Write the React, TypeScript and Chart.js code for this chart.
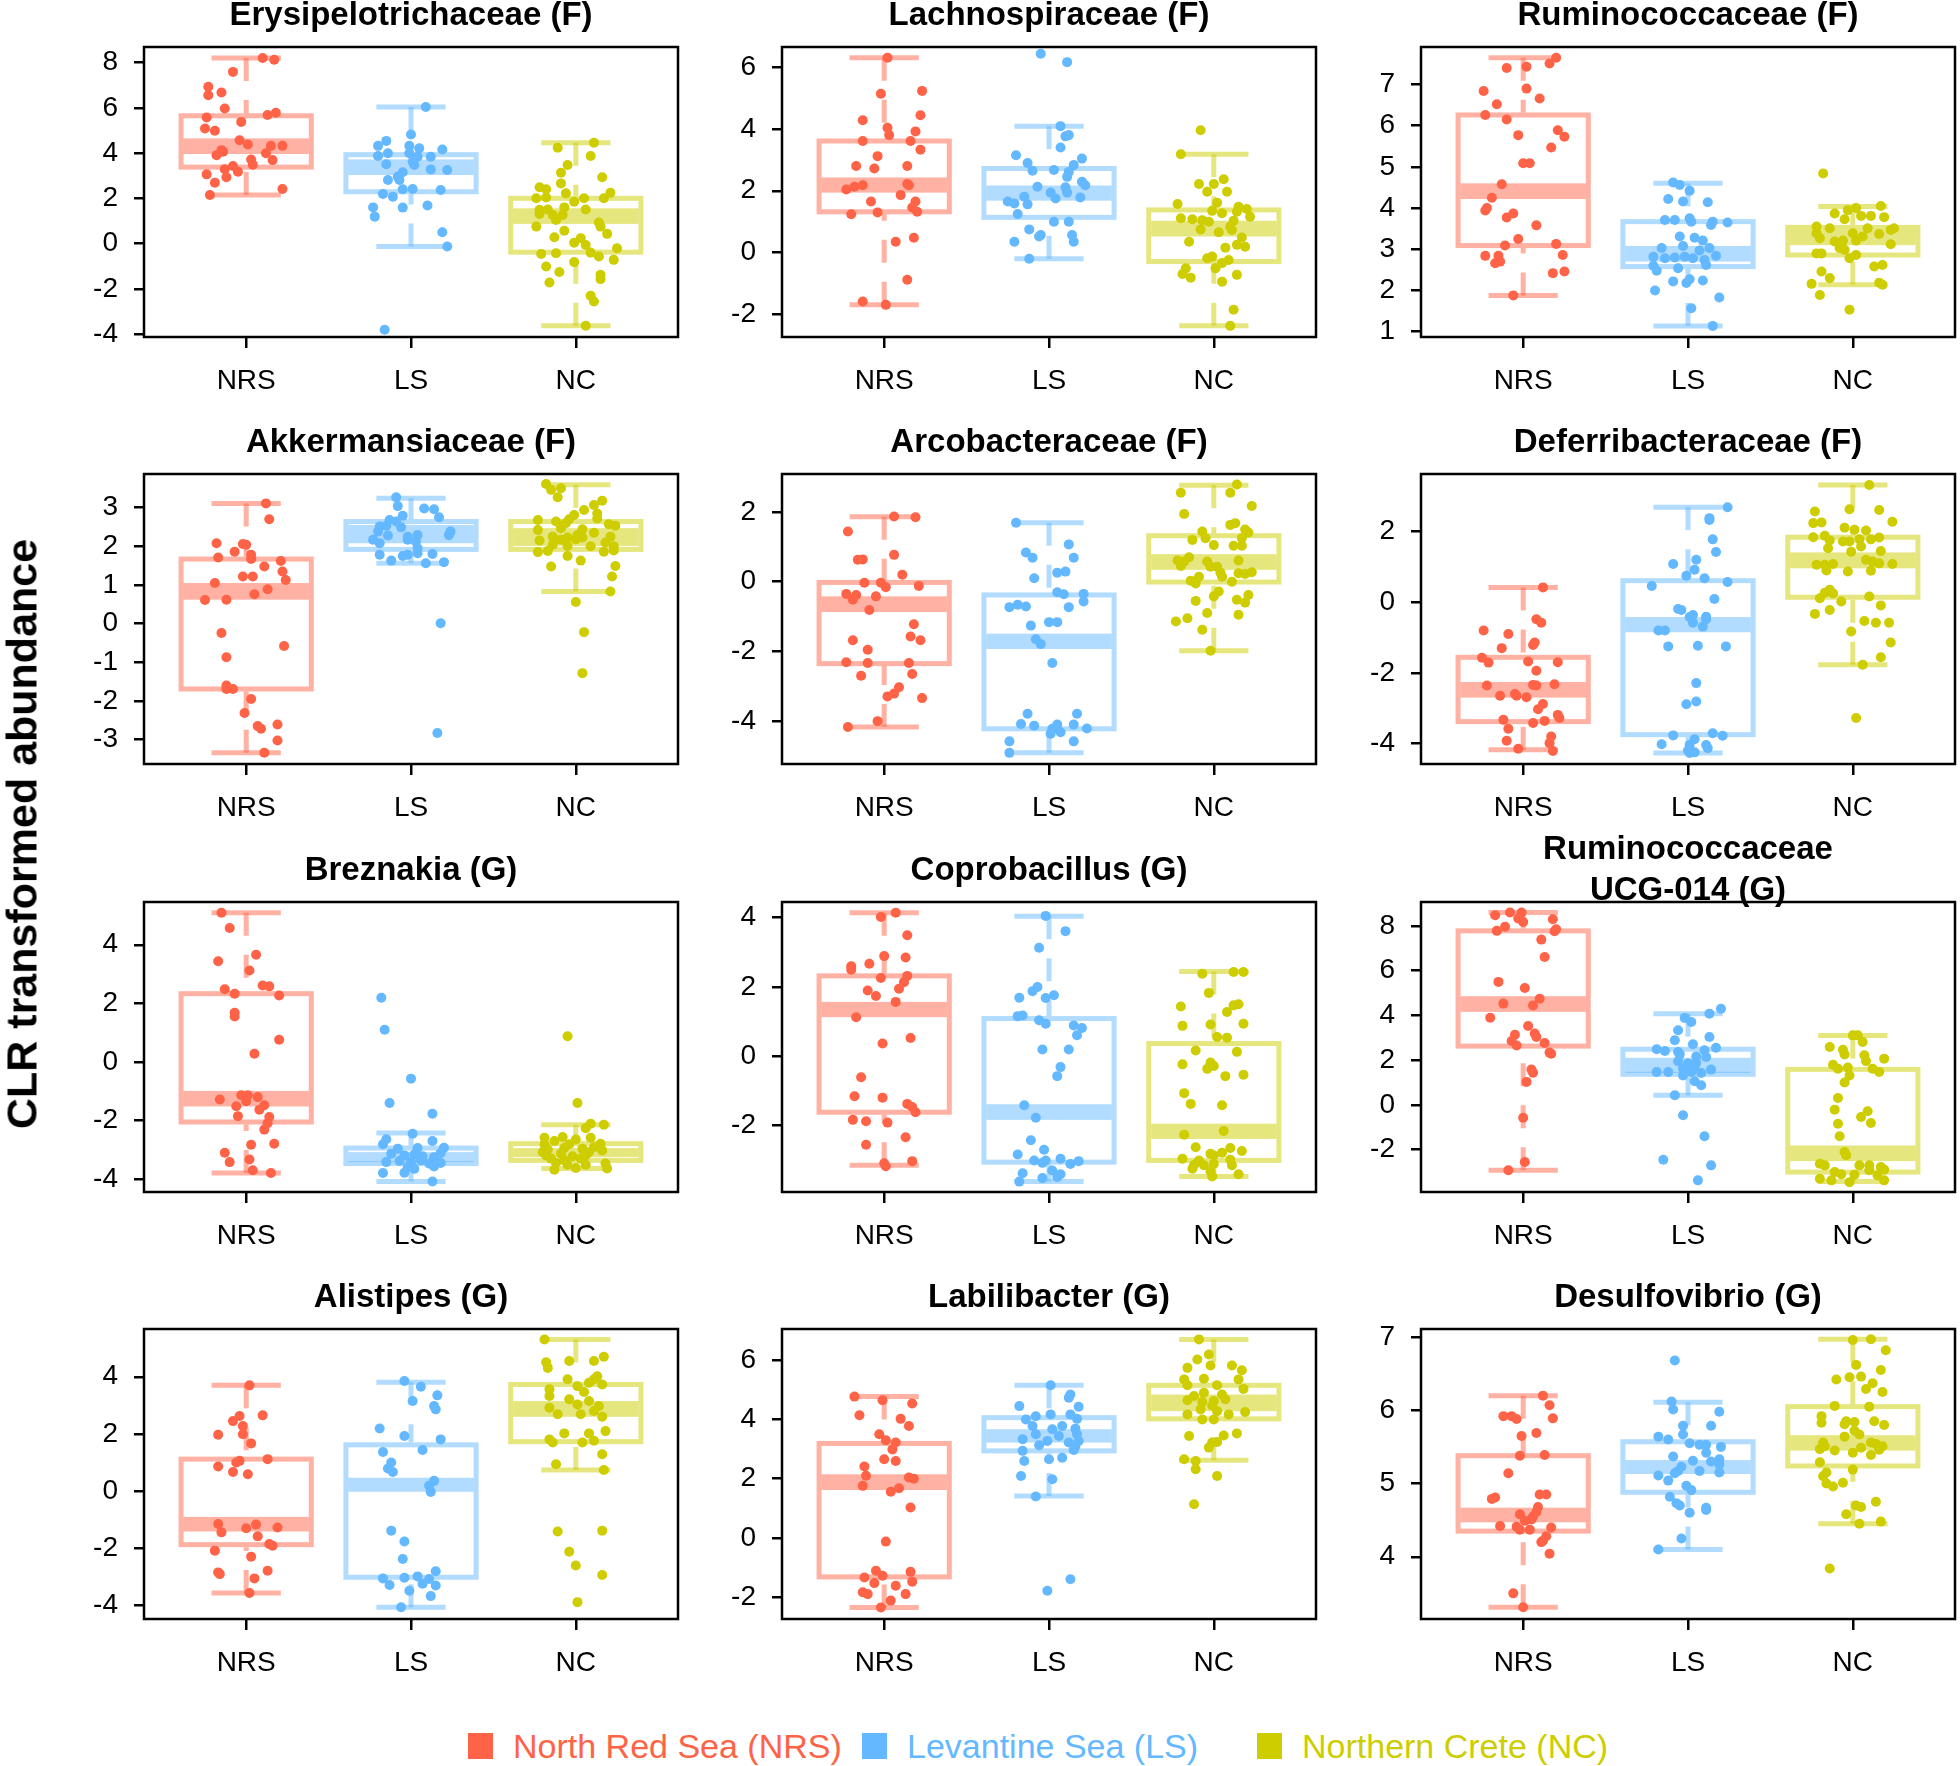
import React, { useEffect, useRef } from "react";
import { Chart, registerables } from "chart.js";
Chart.register(...registerables);

const FONT = '"Liberation Sans", Arial, Helvetica, sans-serif';
const GROUPS = ["NRS", "LS", "NC"];
const LEGEND_LABELS = ["North Red Sea (NRS)", "Levantine Sea (LS)", "Northern Crete (NC)"];
const COLORS = ["rgb(255,99,71)", "rgb(99,184,255)", "rgb(205,205,0)"];
const FADED = ["rgba(255,99,71,0.5)", "rgba(99,184,255,0.5)", "rgba(205,205,0,0.5)"];
const Y_LABEL = "CLR transformed abundance";

const TITLES = [
  ["Erysipelotrichaceae (F)"], ["Lachnospiraceae (F)"], ["Ruminococcaceae (F)"],
  ["Akkermansiaceae (F)"], ["Arcobacteraceae (F)"], ["Deferribacteraceae (F)"],
  ["Breznakia (G)"], ["Coprobacillus (G)"], ["Ruminococcaceae", "UCG-014 (G)"],
  ["Alistipes (G)"], ["Labilibacter (G)"], ["Desulfovibrio (G)"],
];
const Y_MIN = [-4.13, -2.73, 0.87, -3.63, -5.23, -4.58, -4.44, -3.91, -3.89, -4.47, -2.73, 3.15];
const Y_MAX = [8.69, 6.65, 7.91, 3.87, 3.09, 3.63, 5.46, 4.45, 9.07, 5.67, 7.05, 7.11];
const Y_TICKS = [
  [-4, -2, 0, 2, 4, 6, 8], [-2, 0, 2, 4, 6], [1, 2, 3, 4, 5, 6, 7],
  [-3, -2, -1, 0, 1, 2, 3], [-4, -2, 0, 2], [-4, -2, 0, 2],
  [-4, -2, 0, 2, 4], [-2, 0, 2, 4], [-2, 0, 2, 4, 6, 8],
  [-4, -2, 0, 2, 4], [-2, 0, 2, 4, 6], [4, 5, 6, 7],
];

// box stats per group: [whiskerLow, q1, notchLow, notchHigh, q3, whiskerHigh]
const ERY_BOX = [[2.15, 3.38, 3.96, 4.65, 5.65, 8.2], [-0.13, 2.29, 3.03, 3.72, 3.93, 6.04], [-3.63, -0.38, 0.87, 1.56, 2.0, 4.46]];
const LAC_BOX = [[-1.69, 1.32, 1.94, 2.43, 3.61, 6.3], [-0.2, 1.14, 1.68, 2.17, 2.72, 4.09], [-2.37, -0.29, 0.52, 1.03, 1.38, 3.18]];
const RUM_BOX = [[1.88, 3.09, 4.22, 4.6, 6.26, 7.65], [1.14, 2.58, 2.7, 3.08, 3.67, 4.6], [2.14, 2.86, 3.1, 3.47, 3.53, 4.04]];
const AKK_BOX = [[-3.34, -1.69, 0.62, 1.05, 1.67, 3.11], [1.56, 1.92, 2.08, 2.55, 2.64, 3.24], [0.83, 1.92, 2.01, 2.47, 2.64, 3.59]];
const ARC_BOX = [[-4.17, -2.35, -0.87, -0.42, -0.02, 1.86], [-4.91, -4.22, -1.93, -1.49, -0.38, 1.69], [-1.98, -0.01, 0.34, 0.79, 1.32, 2.77]];
const DEF_BOX = [[-4.18, -3.38, -2.7, -2.26, -1.56, 0.42], [-4.27, -3.75, -0.85, -0.42, 0.61, 2.69], [-1.77, 0.14, 0.96, 1.41, 1.84, 3.32]];
const BRE_BOX = [[-3.79, -2.05, -1.52, -0.99, 2.33, 5.09], [-4.08, -3.47, -3.42, -3.08, -2.94, -2.43], [-3.64, -3.36, -3.25, -2.94, -2.79, -2.14]];
const COP_BOX = [[-3.14, -1.61, 1.13, 1.57, 2.32, 4.14], [-3.61, -3.05, -1.83, -1.38, 1.09, 4.04], [-3.46, -3.0, -2.38, -1.94, 0.37, 2.45]];
const UCG_BOX = [[-2.92, 2.63, 4.16, 4.86, 7.78, 8.6], [0.43, 1.37, 1.43, 2.11, 2.49, 4.08], [-3.42, -3.0, -2.51, -1.81, 1.59, 3.1]];
const ALI_BOX = [[-3.56, -1.87, -1.41, -0.9, 1.12, 3.7], [-4.06, -3.01, -0.02, 0.47, 1.62, 3.81], [0.74, 1.73, 2.6, 3.15, 3.73, 5.3]];
const LAB_BOX = [[-2.34, -1.31, 1.62, 2.15, 3.19, 4.77], [1.42, 2.94, 3.22, 3.67, 4.06, 5.15], [2.62, 4.02, 4.28, 4.84, 5.15, 6.7]];
const DES_BOX = [[3.31, 4.35, 4.47, 4.67, 5.38, 6.2], [4.1, 4.88, 5.13, 5.32, 5.57, 6.11], [4.45, 5.24, 5.45, 5.66, 6.05, 6.97]];

// points: [horizontal jitter (category units), value]
const ERY_NRS = [[0.10,8.2],[0.17,8.13],[-0.08,7.59],[-0.23,6.93],[-0.23,6.56],[-0.15,6.68],[-0.13,5.97],[-0.24,5.57],[0.13,5.68],[0.18,5.78],[-0.03,5.38],[-0.25,5.09],[-0.19,4.99],[-0.04,4.57],[0.01,4.38],[0.22,4.32],[0.15,4.32],[-0.15,4.13],[-0.14,4.06],[-0.18,3.91],[0.12,3.99],[0.03,3.72],[0.16,3.69],[0.04,3.49],[-0.13,3.29],[-0.05,3.18],[-0.08,3.43],[-0.24,3.06],[-0.12,2.93],[-0.19,2.69],[0.22,2.41],[-0.22,2.15]];
const ERY_LS = [[0.09,6.04],[0,4.82],[-0.15,4.54],[-0.2,4.32],[0.19,4.16],[0.05,4.21],[-0.01,4.32],[-0.14,3.99],[-0.2,3.87],[0.12,3.84],[-0.01,3.99],[0.04,3.84],[0.01,3.62],[-0.15,3.51],[0.02,3.47],[0.12,3.28],[0.22,3.25],[-0.05,3.15],[-0.08,2.96],[-0.14,2.81],[-0.07,2.81],[-0.05,2.4],[0.01,2.41],[0.18,2.37],[-0.17,2.19],[-0.11,2.07],[-0.23,1.6],[0.1,1.68],[-0.05,1.59],[-0.22,1.19],[0.19,0.5],[0.22,-0.13],[-0.16,-3.81]];
const ERY_NC = [[0.11,4.46],[-0.11,4.24],[0.09,3.87],[-0.05,3.47],[-0.09,3.13],[0.16,2.93],[-0.09,2.66],[-0.22,2.49],[-0.18,2.4],[-0.06,2.22],[0.21,2.25],[0.17,2.0],[-0.24,2.0],[-0.18,2.04],[0.05,2.0],[-0.01,1.85],[-0.22,1.49],[-0.17,1.51],[0.06,1.51],[-0.07,1.6],[-0.22,1.31],[-0.14,1.26],[-0.08,1.26],[-0.12,1.04],[0.14,0.93],[0.15,0.75],[-0.24,0.75],[-0.07,0.57],[0.19,0.43],[-0.13,0.28],[0.03,0.24],[-0.01,0.04],[0.06,-0.06],[0.25,-0.21],[0.09,-0.4],[-0.21,-0.46],[-0.12,-0.43],[0.14,-0.57],[0.23,-0.72],[-0.01,-0.82],[-0.18,-1.01],[-0.1,-1.26],[0.15,-1.38],[0.15,-1.57],[-0.16,-1.72],[0.09,-2.31],[0.11,-2.56],[0.06,-3.63]];

const LAC_NRS = [[0.02,6.3],[-0.02,5.14],[0.23,5.23],[-0.13,4.28],[0.22,4.44],[0.02,4.04],[0.03,3.8],[0.19,3.92],[-0.13,3.61],[0.16,3.61],[0.22,3.33],[-0.04,3.12],[-0.17,2.8],[-0.06,2.72],[0.14,2.8],[-0.23,2.04],[-0.18,2.13],[-0.13,2.18],[0.14,2.22],[0.15,2.18],[0.1,1.86],[-0.08,1.65],[0.19,1.65],[0.17,1.46],[0.2,1.32],[-0.2,1.24],[-0.04,1.3],[0.07,0.35],[0.18,0.48],[0.14,-0.88],[-0.13,-1.58],[0.01,-1.69]];
const LAC_LS = [[-0.05,6.43],[0.11,6.16],[0.07,4.09],[0.1,3.76],[0.12,3.8],[0.07,3.4],[-0.2,3.15],[0.2,3.04],[-0.13,2.9],[0.15,2.83],[-0.1,2.65],[0.03,2.67],[0.12,2.61],[0.11,2.45],[0.2,2.29],[0.22,2.18],[-0.07,2.13],[0.1,2.11],[0.01,1.94],[0.11,1.94],[0.04,1.75],[0.19,1.78],[-0.15,1.81],[-0.25,1.65],[-0.21,1.59],[-0.13,1.56],[-0.19,1.25],[0.03,1.0],[0.12,1.0],[-0.12,0.75],[-0.05,0.57],[-0.06,0.52],[0.14,0.57],[0.15,0.35],[-0.21,0.35],[-0.12,-0.2]];
const LAC_NC = [[-0.08,3.96],[-0.2,3.18],[0.06,2.37],[-0.09,2.22],[0,2.22],[-0.04,1.97],[0.08,1.97],[-0.22,1.57],[0.02,1.61],[0.15,1.48],[0.2,1.41],[-0.01,1.35],[0.05,1.27],[0.14,1.32],[0.22,1.16],[-0.2,1.11],[-0.13,1.08],[-0.07,1.05],[-0.03,1.0],[0.12,1.03],[0.1,0.84],[-0.08,0.75],[0.03,0.66],[0.11,0.73],[-0.15,0.35],[0.17,0.49],[0.19,0.19],[0.14,0.25],[0.07,0.16],[-0.01,-0.13],[-0.04,-0.18],[0.09,-0.24],[0.05,-0.34],[0.01,-0.51],[-0.17,-0.51],[-0.19,-0.69],[-0.14,-0.81],[0.14,-0.72],[0.05,-0.94],[0.12,-1.85],[0.1,-2.37]];

const RUM_NRS = [[0.2,7.65],[0.16,7.51],[-0.1,7.4],[0.02,7.43],[0.02,6.9],[0.1,6.66],[-0.24,6.84],[-0.16,6.52],[-0.23,6.26],[-0.1,6.15],[-0.03,5.77],[0.21,5.89],[0.25,5.73],[0.17,5.47],[0,5.09],[0.04,5.09],[-0.13,4.58],[-0.19,4.25],[-0.22,4.0],[-0.23,3.94],[-0.06,3.87],[-0.1,3.77],[0.08,3.58],[-0.03,3.25],[-0.11,3.09],[0.2,3.13],[-0.23,2.84],[-0.15,2.84],[-0.17,2.66],[-0.14,2.7],[0.24,2.86],[0.18,2.42],[0.25,2.46],[-0.06,1.88]];
const RUM_LS = [[-0.09,4.62],[-0.05,4.56],[0.01,4.42],[-0.12,4.22],[-0.03,4.16],[0.12,4.14],[-0.14,3.71],[-0.08,3.71],[0.01,3.75],[0.02,3.67],[0.15,3.67],[0.14,3.59],[0.24,3.65],[-0.05,3.31],[0.04,3.28],[0.09,3.21],[-0.03,3.08],[-0.16,3.03],[0.13,3.03],[-0.21,2.82],[-0.14,2.78],[-0.08,2.8],[-0.02,2.82],[0.03,2.78],[0.07,2.97],[0.17,2.84],[0.1,2.74],[0.11,2.62],[-0.21,2.6],[-0.19,2.48],[-0.06,2.54],[-0.09,2.22],[-0.01,2.18],[0.01,2.27],[0.09,2.24],[-0.2,2.0],[0.19,1.83],[0.02,1.57],[0.15,1.14]];
const RUM_NC = [[-0.18,4.84],[0.02,4.0],[0.17,4.05],[-0.03,3.95],[-0.11,3.87],[0.05,3.81],[0.11,3.81],[0.19,3.78],[-0.05,3.73],[-0.22,3.55],[-0.14,3.51],[0.09,3.51],[0.25,3.51],[0.23,3.47],[-0.22,3.39],[0,3.39],[0.16,3.37],[0.06,3.31],[-0.2,3.27],[-0.11,3.19],[-0.06,3.21],[0.02,3.21],[-0.08,3.03],[-0.05,2.99],[0.23,3.12],[-0.22,2.9],[-0.19,2.9],[0.02,2.86],[-0.02,2.78],[0.13,2.58],[0.18,2.62],[-0.19,2.46],[-0.14,2.3],[-0.25,2.16],[0.16,2.19],[0.18,2.14],[-0.2,1.89],[-0.02,1.53]];

const AKK_NRS = [[0.12,3.11],[0.14,2.7],[-0.18,2.08],[-0.02,2.06],[0,2.04],[-0.07,1.86],[0.03,1.78],[0.03,1.67],[-0.17,1.71],[0.21,1.62],[0.11,1.48],[0.22,1.35],[0.24,1.13],[-0.02,1.22],[0.04,1.22],[-0.19,1.05],[0.13,0.89],[0.05,0.76],[-0.25,0.61],[-0.12,0.62],[-0.15,-0.24],[0.23,-0.58],[-0.12,-0.87],[-0.12,-1.6],[-0.12,-1.69],[-0.08,-1.69],[0.03,-1.95],[-0.01,-2.31],[0.07,-2.65],[0.09,-2.72],[0.19,-2.61],[0.19,-3.02],[0.11,-3.34]];
const AKK_LS = [[-0.09,3.27],[-0.08,3.04],[0.08,2.98],[0.14,2.96],[0.17,2.75],[-0.05,2.79],[-0.13,2.68],[-0.19,2.51],[-0.15,2.53],[-0.09,2.64],[-0.06,2.49],[-0.2,2.38],[0.24,2.38],[0.23,2.29],[-0.14,2.28],[-0.02,2.25],[0.04,2.29],[-0.23,2.17],[-0.02,2.17],[0.03,2.12],[-0.19,2.08],[0.04,1.95],[0.04,1.82],[-0.19,1.78],[0.13,1.8],[-0.05,1.75],[-0.02,1.78],[-0.12,1.63],[0.09,1.56],[0.2,1.59],[0.18,0.01],[0.16,-2.83]];
const AKK_NC = [[-0.18,3.61],[-0.15,3.46],[-0.09,3.5],[-0.11,3.27],[0.16,3.18],[0.11,3.07],[0.05,2.94],[0.13,2.85],[-0.01,2.81],[0.13,2.72],[-0.04,2.7],[-0.23,2.68],[-0.12,2.64],[-0.06,2.6],[0.2,2.57],[0.24,2.53],[-0.09,2.47],[0.04,2.44],[-0.23,2.42],[0.11,2.35],[0.01,2.29],[-0.14,2.25],[-0.05,2.23],[0.04,2.23],[0.21,2.25],[-0.22,2.15],[-0.09,2.17],[0,2.18],[0.18,2.1],[-0.14,2.04],[-0.05,2.01],[0.23,2.0],[0.09,2.0],[0.17,1.86],[0.23,1.89],[-0.23,1.85],[-0.17,1.88],[-0.05,1.75],[0.03,1.63],[-0.15,1.48],[0.24,1.49],[0.22,1.22],[0.21,0.83],[0,0.56],[0.05,-0.22],[0.04,-1.28]];

const ARC_NRS = [[0.06,1.87],[0.19,1.85],[-0.22,1.44],[-0.16,0.63],[-0.13,0.64],[0.06,0.77],[0.11,0.2],[-0.12,-0.03],[-0.02,-0.03],[0.01,-0.16],[0.21,-0.12],[-0.23,-0.35],[-0.17,-0.38],[-0.19,-0.52],[-0.05,-0.42],[-0.09,-0.81],[0.18,-1.22],[0.16,-1.57],[0.22,-1.68],[-0.19,-1.68],[-0.1,-1.95],[-0.23,-2.31],[-0.1,-2.33],[0.15,-2.33],[-0.14,-2.7],[0.17,-2.65],[0.09,-3.03],[0.06,-3.21],[0.02,-3.29],[0.23,-3.34],[-0.04,-4.0],[-0.22,-4.17]];
const ARC_LS = [[-0.2,1.69],[0.12,1.07],[-0.14,0.84],[-0.1,0.69],[0.15,0.69],[0.05,0.26],[0.1,0.29],[-0.09,0.1],[0.05,-0.3],[0.09,-0.36],[0.21,-0.35],[0.21,-0.57],[-0.24,-0.73],[-0.19,-0.66],[-0.14,-0.71],[0.12,-0.73],[0,-1.16],[0.05,-1.16],[-0.11,-1.26],[-0.08,-1.65],[-0.05,-1.79],[0.02,-2.33],[-0.13,-3.79],[0.17,-3.79],[-0.17,-4.08],[-0.09,-4.13],[0.05,-4.1],[0.15,-4.1],[0.23,-4.21],[0.02,-4.22],[0.07,-4.32],[0.01,-4.36],[-0.24,-4.58],[0.15,-4.58],[-0.24,-4.91]];
const ARC_NC = [[0.14,2.79],[0.1,2.55],[-0.2,2.55],[0.23,2.17],[-0.18,1.94],[0.1,1.63],[0.13,1.68],[0.19,1.5],[0.21,1.41],[-0.07,1.44],[-0.13,1.2],[-0.05,1.25],[0.17,1.25],[0,1.05],[0.12,1.03],[0.17,1.03],[-0.15,0.7],[-0.22,0.61],[-0.18,0.58],[-0.2,0.45],[0.15,0.61],[-0.04,0.58],[-0.02,0.43],[0.02,0.43],[0.04,0.26],[0.15,0.24],[0.19,0.22],[0.23,0.27],[0.05,0.14],[-0.09,0.14],[-0.14,0.03],[-0.11,-0.05],[0.11,0.0],[0.03,-0.28],[0,-0.42],[0.21,-0.38],[0.14,-0.52],[0.19,-0.6],[-0.11,-0.55],[-0.04,-0.9],[0.15,-0.95],[-0.23,-1.14],[-0.16,-1.05],[-0.07,-1.38],[-0.02,-1.98]];

const DEF_NRS = [[0.12,0.42],[0.08,-0.48],[0.11,-0.58],[-0.24,-0.8],[-0.09,-0.9],[0.07,-1.14],[0.06,-1.21],[-0.13,-1.3],[-0.25,-1.57],[-0.21,-1.71],[0.03,-1.68],[0.21,-1.7],[0.08,-1.94],[-0.22,-2.36],[0.06,-2.34],[0.08,-2.36],[0.19,-2.32],[-0.14,-2.65],[-0.05,-2.6],[-0.04,-2.65],[0.02,-2.69],[0.12,-2.88],[0.09,-3.03],[0.21,-3.19],[0.22,-3.28],[-0.12,-3.33],[0.13,-3.36],[0.06,-3.42],[-0.09,-3.58],[0.17,-3.8],[-0.1,-3.92],[0.16,-3.99],[-0.03,-4.15],[0.18,-4.21]];
const DEF_LS = [[0.24,2.69],[0.13,2.38],[0.13,2.33],[0.15,1.78],[0.17,1.42],[-0.09,1.08],[0.05,1.2],[0.04,0.92],[-0.01,0.75],[0.1,0.68],[0.24,0.57],[-0.22,0.46],[0.16,0.09],[-0.06,-0.19],[-0.04,-0.22],[0.03,-0.36],[0.01,-0.42],[0.11,-0.41],[0.11,-0.48],[0.03,-0.58],[0.09,-0.69],[-0.18,-0.8],[-0.14,-0.8],[-0.12,-1.25],[0.06,-1.23],[0.23,-1.25],[0.05,-2.29],[-0.01,-2.89],[0.05,-2.81],[-0.09,-3.77],[0.15,-3.71],[0.21,-3.78],[-0.16,-4.02],[0.04,-3.88],[0.01,-4.04],[0.11,-4.04],[0.12,-4.13],[0,-4.2],[0.04,-4.25],[0.01,-4.27]];
const DEF_NC = [[0.1,3.32],[-0.02,2.63],[0.16,2.61],[-0.23,2.57],[0.24,2.28],[-0.24,2.24],[-0.19,2.26],[-0.05,2.11],[0.01,2.05],[0.08,2.03],[-0.24,1.84],[-0.17,1.88],[0.16,1.83],[-0.14,1.75],[-0.06,1.72],[0.04,1.78],[0.11,1.78],[-0.02,1.72],[-0.15,1.53],[0.05,1.58],[-0.01,1.43],[0.17,1.45],[0.08,1.2],[0.12,1.15],[0.16,1.1],[0.24,1.08],[-0.22,1.06],[-0.17,1.06],[-0.12,1.08],[-0.16,0.9],[-0.03,0.87],[0.11,0.89],[-0.14,0.35],[-0.17,0.27],[-0.12,0.25],[-0.2,0.11],[-0.07,0.02],[0.1,0.16],[-0.14,-0.22],[-0.23,-0.33],[0.17,-0.09],[0.07,-0.53],[0.14,-0.58],[0.22,-0.58],[-0.01,-0.83],[0.23,-1.14],[0.17,-1.56],[0.06,-1.77],[0.02,-3.28]];

const BRE_NRS = [[-0.15,5.09],[-0.1,4.57],[0.06,3.66],[-0.17,3.44],[0.02,3.12],[0.1,2.61],[0.14,2.58],[-0.13,2.48],[-0.07,2.33],[0.2,2.27],[-0.07,1.68],[-0.07,1.55],[0.2,0.76],[0.05,0.28],[-0.03,-1.14],[0.01,-1.14],[0.07,-1.2],[-0.16,-1.28],[0,-1.34],[-0.06,-1.51],[0.11,-1.48],[0.08,-1.63],[-0.05,-1.85],[0.14,-1.88],[0.13,-2.09],[0.11,-2.31],[0.03,-2.83],[0.17,-2.79],[-0.13,-3.1],[0.02,-3.33],[-0.1,-3.42],[0.04,-3.7],[0.15,-3.79]];
const BRE_LS = [[-0.18,2.19],[-0.16,1.1],[0,-0.57],[-0.13,-1.4],[0.13,-1.77],[0.01,-2.45],[-0.15,-2.64],[0.13,-2.7],[-0.17,-2.81],[-0.08,-2.96],[0.04,-2.94],[0.2,-2.93],[-0.12,-3.13],[-0.04,-3.19],[0.02,-3.16],[0.07,-3.22],[0.18,-3.11],[0.14,-3.25],[-0.15,-3.42],[-0.07,-3.38],[0,-3.42],[0.06,-3.36],[0.11,-3.47],[0.18,-3.45],[0.14,-3.57],[-0.02,-3.59],[0.02,-3.65],[-0.04,-3.78],[-0.17,-3.79],[0.13,-4.08]];
const BRE_NC = [[-0.05,0.88],[0.01,-1.4],[0.09,-2.11],[0.17,-2.14],[0.06,-2.26],[-0.19,-2.59],[-0.08,-2.56],[-0.13,-2.7],[0,-2.65],[0.09,-2.59],[-0.19,-2.83],[-0.04,-2.81],[0.15,-2.79],[-0.17,-2.99],[-0.07,-2.94],[0.04,-2.96],[0.11,-2.91],[-0.2,-3.08],[-0.09,-3.13],[0.08,-3.08],[0.16,-3.02],[-0.18,-3.19],[-0.02,-3.22],[0.06,-3.19],[-0.15,-3.3],[-0.07,-3.36],[0.03,-3.3],[-0.12,-3.45],[-0.05,-3.51],[0.06,-3.51],[0.18,-3.47],[0,-3.62],[0.19,-3.64],[-0.13,-3.68]];

const COP_NRS = [[0.07,4.14],[-0.02,4.02],[0.14,3.49],[0,2.89],[0.13,2.85],[-0.09,2.67],[-0.2,2.6],[-0.2,2.5],[-0.02,2.26],[0.14,2.32],[0.12,2.14],[0.09,1.95],[-0.1,1.9],[-0.05,1.74],[0.07,1.57],[-0.17,1.13],[0.16,0.53],[-0.01,0.37],[-0.14,-0.6],[-0.18,-1.15],[-0.01,-1.19],[0.14,-1.37],[0.17,-1.46],[0.19,-1.61],[-0.19,-1.83],[-0.11,-1.87],[0.02,-1.91],[0.13,-2.33],[-0.11,-2.55],[0,-3.08],[0.17,-3.02],[0.01,-3.17]];
const COP_LS = [[-0.02,4.05],[0.1,3.61],[-0.06,3.13],[-0.07,2.0],[-0.1,1.88],[0.03,1.76],[-0.02,1.68],[-0.18,1.69],[-0.16,1.18],[-0.19,1.16],[-0.06,1.04],[-0.02,0.94],[0.15,0.89],[0.2,0.82],[0.17,0.61],[-0.04,0.2],[0.12,0.2],[0.07,-0.31],[0.05,-0.57],[-0.15,-1.41],[-0.08,-1.77],[-0.11,-2.42],[-0.03,-2.69],[-0.19,-2.83],[-0.09,-3.0],[-0.02,-3.0],[0.07,-2.95],[0.13,-3.1],[0.18,-3.02],[-0.04,-3.07],[-0.16,-3.37],[0.02,-3.29],[0.07,-3.4],[0.05,-3.48],[-0.04,-3.51],[-0.18,-3.61]];
const COP_NC = [[-0.07,2.38],[0.12,2.43],[0.18,2.43],[-0.03,1.83],[-0.2,1.44],[0.12,1.47],[0.15,1.5],[0.08,1.28],[-0.19,0.88],[-0.02,0.92],[0.18,0.94],[0.02,0.56],[0.08,0.54],[-0.11,0.17],[0.14,0.13],[-0.19,-0.23],[-0.02,-0.18],[0,-0.28],[-0.04,-0.36],[0.07,-0.57],[0.18,-0.53],[-0.18,-1.06],[-0.14,-1.37],[0.05,-1.41],[0.06,-2.15],[-0.18,-2.26],[-0.11,-2.62],[0.1,-2.64],[0.17,-2.73],[0.05,-2.78],[-0.02,-2.81],[0,-2.86],[-0.19,-2.95],[-0.09,-3.0],[0.1,-2.98],[-0.12,-3.13],[-0.06,-3.14],[0,-3.1],[0.11,-3.14],[-0.13,-3.24],[-0.02,-3.31],[-0.01,-3.46],[0.15,-3.4]];

const UCG_NRS = [[-0.17,8.48],[-0.08,8.6],[-0.01,8.6],[-0.03,8.33],[0,8.18],[0.18,8.3],[-0.16,7.78],[-0.11,7.96],[0.19,7.76],[0.2,7.85],[0.11,7.39],[0.13,6.61],[-0.15,5.5],[0.01,5.23],[0.1,4.75],[-0.12,4.53],[0.06,4.45],[-0.2,3.9],[0.03,3.53],[-0.05,3.14],[0.07,3.19],[0.08,3.04],[-0.07,2.86],[-0.04,2.66],[0.13,2.77],[0.16,2.34],[0.17,2.29],[0.05,1.58],[0.06,1.44],[0.02,1.03],[0,-0.57],[0.01,-2.55],[-0.09,-2.92]];
const UCG_LS = [[0.2,4.3],[0.13,4.08],[-0.02,3.89],[0.02,3.71],[-0.06,3.34],[-0.08,2.89],[0.13,3.04],[0.03,2.71],[-0.19,2.49],[-0.14,2.41],[0.17,2.56],[0.1,2.44],[-0.06,2.37],[-0.05,2.26],[0.05,2.17],[0.11,2.14],[-0.06,1.95],[0,1.85],[0.05,1.89],[0.04,1.7],[-0.03,1.62],[0.02,1.47],[-0.19,1.47],[-0.12,1.47],[0.14,1.58],[0.08,1.43],[-0.03,1.32],[0.04,1.06],[0.08,0.88],[-0.08,0.43],[-0.03,-0.46],[0.1,-1.4],[-0.15,-2.45],[0.14,-2.7],[0.06,-3.37]];
const UCG_NC = [[0,3.11],[0.03,3.11],[0.06,2.81],[-0.14,2.59],[-0.06,2.47],[-0.05,2.26],[0.07,2.22],[0.19,2.07],[0.08,1.96],[-0.12,1.8],[-0.09,1.62],[-0.03,1.67],[0.12,1.62],[0.16,1.47],[-0.02,1.32],[-0.05,1.0],[-0.09,0.31],[-0.11,-0.21],[0.09,-0.28],[0.05,-0.54],[0.11,-0.81],[-0.09,-0.84],[-0.08,-1.4],[-0.05,-2.1],[-0.04,-2.25],[-0.2,-2.63],[-0.17,-2.7],[0.04,-2.7],[0.1,-2.7],[0.17,-2.77],[0.1,-2.92],[0.19,-2.89],[-0.11,-3.0],[-0.07,-3.1],[0.01,-3.12],[-0.2,-3.3],[-0.13,-3.37],[-0.02,-3.45],[0.19,-3.37],[0.15,-3.15]];

const ALI_NRS = [[0.02,3.7],[0.1,2.65],[-0.04,2.63],[-0.08,2.45],[-0.02,2.28],[-0.02,1.99],[-0.17,1.97],[0.03,1.67],[0.13,1.12],[-0.04,1.06],[-0.06,1.0],[-0.17,0.86],[-0.08,0.67],[0.01,0.59],[-0.17,-1.15],[0.06,-1.17],[-0.15,-1.44],[0,-1.3],[0.19,-1.27],[0.07,-1.58],[0.14,-1.85],[0.16,-1.91],[-0.19,-2.08],[0.03,-2.29],[0.13,-2.78],[-0.17,-2.84],[-0.16,-2.9],[0.05,-3.05],[0.02,-3.56]];
const ALI_LS = [[-0.04,3.85],[0.06,3.65],[0.16,3.35],[0.01,3.15],[0.14,2.98],[0.15,2.86],[-0.19,2.19],[-0.04,1.93],[0.18,1.81],[0.07,1.44],[-0.17,1.37],[-0.12,1.0],[-0.14,0.79],[-0.11,0.67],[0.14,0.36],[0.11,0.19],[0.12,-0.03],[-0.12,-1.38],[-0.04,-1.76],[-0.05,-2.37],[-0.17,-3.05],[0.04,-2.98],[0.15,-2.8],[0.11,-3.07],[-0.04,-3.03],[-0.13,-3.28],[0.07,-3.24],[0.15,-3.3],[-0.01,-3.48],[0.12,-3.67],[-0.06,-4.06]];
const ALI_NC = [[-0.19,5.3],[0.17,4.7],[-0.18,4.51],[-0.04,4.55],[0.11,4.55],[-0.17,4.31],[0.13,4.02],[0.11,3.91],[0.08,3.79],[0.16,3.73],[-0.05,3.91],[0.01,3.67],[-0.16,3.56],[0.05,3.47],[-0.16,3.33],[-0.04,3.21],[0.08,3.15],[0.01,3.03],[0.14,2.98],[-0.16,2.92],[0.11,2.8],[-0.11,2.69],[0.03,2.69],[0.16,2.6],[0.18,2.1],[-0.07,2.02],[0.08,2.02],[-0.16,1.81],[-0.14,1.7],[0.04,1.7],[0.11,1.76],[0.16,1.29],[-0.12,0.94],[0.17,0.74],[-0.11,-1.41],[0.16,-1.38],[-0.04,-2.12],[0,-2.6],[0.16,-2.93],[0.01,-3.88]];

const LAB_NRS = [[-0.18,4.77],[-0.01,4.65],[0.17,4.54],[-0.15,4.14],[0.1,4.02],[0.15,3.78],[-0.03,3.5],[0.01,3.3],[0.07,3.22],[0.05,2.99],[0,2.66],[0.07,2.6],[-0.12,2.41],[-0.11,2.1],[0.15,2.04],[0.18,2.0],[-0.13,1.76],[0.09,1.68],[0.04,1.56],[0.16,1.03],[0.01,-0.12],[-0.05,-1.1],[0.16,-1.14],[-0.01,-1.27],[-0.12,-1.33],[0.17,-1.47],[-0.06,-1.52],[0.07,-1.61],[-0.13,-1.83],[-0.1,-1.89],[0.13,-1.89],[0.04,-2.11],[-0.02,-2.34]];
const LAB_LS = [[0.01,5.15],[0.13,4.84],[0.12,4.73],[-0.18,4.45],[0.18,4.43],[0.01,4.17],[-0.08,4.11],[0.13,4.17],[-0.14,4.0],[0.17,4.02],[-0.1,3.78],[0.08,3.78],[0.02,3.67],[0.16,3.69],[-0.08,3.5],[0.06,3.44],[0.17,3.5],[-0.16,3.33],[-0.01,3.27],[0.12,3.22],[0.18,3.27],[-0.06,3.13],[0.16,3.1],[-0.16,2.94],[0.15,2.97],[0.08,2.71],[0,2.66],[-0.15,2.6],[-0.17,2.09],[0.02,1.98],[-0.08,1.4],[0.13,-1.39],[-0.01,-1.78]];
const LAB_NC = [[-0.09,6.7],[-0.03,6.19],[-0.1,6.02],[-0.16,5.74],[-0.02,5.82],[0.11,5.82],[0.17,5.66],[-0.06,5.37],[-0.18,5.35],[0.15,5.35],[-0.16,5.15],[0.02,5.15],[0.18,5.03],[-0.06,4.9],[0.05,4.84],[-0.12,4.79],[-0.16,4.65],[-0.07,4.59],[0,4.62],[0.07,4.68],[-0.01,4.47],[-0.08,4.34],[-0.16,4.17],[0.02,4.28],[0.19,4.25],[0.09,4.17],[-0.07,4.0],[0,4.0],[-0.15,3.44],[0.14,3.53],[0.06,3.46],[-0.01,3.22],[0.02,3.24],[-0.03,3.05],[-0.18,2.66],[-0.11,2.6],[-0.11,2.32],[0.02,2.09],[-0.12,1.14]];

const DES_NRS = [[0.12,6.2],[0.16,6.07],[-0.12,5.92],[-0.07,5.92],[-0.04,5.88],[0.18,5.89],[-0.01,5.65],[0.08,5.69],[-0.02,5.38],[0.13,5.39],[-0.09,5.14],[-0.19,4.79],[-0.17,4.81],[0.1,4.85],[0.14,4.85],[0.09,4.68],[0.08,4.61],[-0.02,4.58],[0.06,4.55],[0.05,4.51],[0.01,4.49],[-0.14,4.42],[-0.04,4.41],[-0.02,4.37],[0.04,4.37],[0.17,4.4],[0.14,4.28],[0.12,4.22],[0.11,4.2],[0.16,4.04],[-0.06,3.5],[0,3.31]];
const DES_LS = [[-0.08,6.68],[-0.1,6.12],[-0.09,6.01],[0.19,5.98],[-0.03,5.79],[0.14,5.79],[-0.03,5.67],[-0.18,5.64],[-0.12,5.6],[0.01,5.55],[0.07,5.53],[0.11,5.53],[0.2,5.5],[0.11,5.42],[-0.09,5.37],[0.03,5.31],[0.14,5.3],[0.19,5.33],[0.19,5.26],[-0.04,5.23],[-0.06,5.17],[-0.08,5.14],[0.07,5.17],[0.19,5.15],[-0.18,5.11],[-0.12,5.04],[-0.01,4.97],[0.02,4.91],[-0.11,4.82],[-0.07,4.73],[-0.05,4.7],[0.11,4.67],[0.11,4.64],[0.01,4.6],[-0.04,4.25],[-0.18,4.1]];
const DES_NC = [[0,6.96],[0.11,6.97],[0.2,6.82],[0.02,6.62],[0.17,6.55],[-0.1,6.42],[-0.02,6.45],[0.05,6.46],[0.12,6.37],[0.08,6.29],[0.18,6.25],[-0.11,6.06],[0.1,6.05],[-0.19,5.92],[-0.19,5.83],[-0.04,5.85],[-0.05,5.81],[0.01,5.84],[0.13,5.85],[0.19,5.8],[0.01,5.72],[0.04,5.67],[-0.05,5.64],[0.11,5.56],[0.14,5.54],[-0.18,5.56],[-0.17,5.51],[-0.2,5.47],[-0.11,5.45],[0.05,5.49],[0.18,5.51],[0,5.42],[0.16,5.46],[0.11,5.39],[-0.2,5.29],[0,5.19],[-0.16,5.15],[-0.18,5.1],[-0.16,5.0],[-0.12,4.96],[-0.06,5.01],[0.14,4.75],[0.02,4.7],[0.05,4.68],[-0.04,4.58],[0.17,4.48],[0.04,4.45],[-0.14,3.84]];

const PANEL_POINTS = [
  [ERY_NRS, ERY_LS, ERY_NC], [LAC_NRS, LAC_LS, LAC_NC], [RUM_NRS, RUM_LS, RUM_NC],
  [AKK_NRS, AKK_LS, AKK_NC], [ARC_NRS, ARC_LS, ARC_NC], [DEF_NRS, DEF_LS, DEF_NC],
  [BRE_NRS, BRE_LS, BRE_NC], [COP_NRS, COP_LS, COP_NC], [UCG_NRS, UCG_LS, UCG_NC],
  [ALI_NRS, ALI_LS, ALI_NC], [LAB_NRS, LAB_LS, LAB_NC], [DES_NRS, DES_LS, DES_NC],
];
const PANEL_BOXES = [ERY_BOX, LAC_BOX, RUM_BOX, AKK_BOX, ARC_BOX, DEF_BOX, BRE_BOX, COP_BOX, UCG_BOX, ALI_BOX, LAB_BOX, DES_BOX];

// layout
const COL_LEFT = [144, 782, 1421];
const ROW_TOP = [47, 474, 902, 1329];
const PLOT_W = 536;
const PLOT_H = 290;
const PAD_L = 110;
const PAD_T = 80;
const PAD_R = 3;
const PAD_B = 70;
const CW = PAD_L + PLOT_W + PAD_R;
const CH = PAD_T + PLOT_H + PAD_B;
const X_MIN = 0.38;
const X_MAX = 3.62;
const BOX_HALF = 0.395;
const BAND_HALF = 0.38;
const CAP_HALF = 0.21;

function Panel({ idx }: { idx: number }) {
  const ref = useRef<HTMLCanvasElement | null>(null);
  useEffect(() => {
    const boxes = PANEL_BOXES[idx];
    const title = TITLES[idx];
    const yTicks = Y_TICKS[idx];
    const plugin = {
      id: "rbox",
      beforeDatasetsDraw(chart: any) {
        const { ctx, scales } = chart;
        const x = scales.x, y = scales.y;
        const yp = (v: number) => y.getPixelForValue(v);
        ctx.save();
        boxes.forEach((s: number[], gi: number) => {
          const [wlo, q1, blo, bhi, q3, whi] = s;
          const c = gi + 1;
          const cx = x.getPixelForValue(c);
          const xl = x.getPixelForValue(c - BOX_HALF), xr = x.getPixelForValue(c + BOX_HALF);
          const bl = x.getPixelForValue(c - BAND_HALF), br = x.getPixelForValue(c + BAND_HALF);
          const cl = x.getPixelForValue(c - CAP_HALF), cr = x.getPixelForValue(c + CAP_HALF);
          ctx.fillStyle = FADED[gi];
          ctx.fillRect(bl, yp(bhi), br - bl, yp(blo) - yp(bhi));
          ctx.strokeStyle = FADED[gi];
          ctx.lineWidth = 5;
          ctx.lineCap = "butt";
          ctx.strokeRect(xl, yp(q3), xr - xl, yp(q1) - yp(q3));
          ctx.setLineDash([23, 19]);
          ctx.beginPath();
          ctx.moveTo(cx, yp(whi));
          ctx.lineTo(cx, yp(q3) - 2.5);
          ctx.stroke();
          ctx.beginPath();
          ctx.moveTo(cx, yp(wlo));
          ctx.lineTo(cx, yp(q1) + 2.5);
          ctx.stroke();
          ctx.setLineDash([]);
          ctx.beginPath();
          ctx.moveTo(cl, yp(whi));
          ctx.lineTo(cr, yp(whi));
          ctx.moveTo(cl, yp(wlo));
          ctx.lineTo(cr, yp(wlo));
          ctx.stroke();
        });
        ctx.restore();
      },
      afterDraw(chart: any) {
        const { ctx, chartArea } = chart;
        ctx.save();
        ctx.strokeStyle = "#000";
        ctx.lineWidth = 2.5;
        ctx.strokeRect(chartArea.left, chartArea.top, chartArea.right - chartArea.left, chartArea.bottom - chartArea.top);
        ctx.fillStyle = "#000";
        ctx.font = `bold 33px ${FONT}`;
        ctx.textAlign = "center";
        ctx.textBaseline = "alphabetic";
        const cx = (chartArea.left + chartArea.right) / 2;
        if (title.length === 1) {
          ctx.fillText(title[0], cx, chartArea.top - 22);
        } else {
          ctx.fillText(title[0], cx, chartArea.top - 43);
          ctx.fillText(title[1], cx, chartArea.top - 2);
        }
        ctx.restore();
      },
    };
    const chart = new Chart(ref.current as HTMLCanvasElement, {
      type: "scatter",
      data: {
        datasets: PANEL_POINTS[idx].map((pts: number[][], gi: number) => ({
          label: GROUPS[gi],
          data: pts.map(([dx, v]) => ({ x: gi + 1 + dx, y: v })),
          backgroundColor: COLORS[gi],
          borderColor: COLORS[gi],
          borderWidth: 0,
          pointRadius: 5,
          pointHoverRadius: 5,
        })),
      },
      options: {
        animation: false,
        responsive: false,
        maintainAspectRatio: false,
        devicePixelRatio: 1,
        events: [],
        layout: { padding: { top: PAD_T, right: PAD_R, left: 0, bottom: 0 } },
        plugins: { legend: { display: false }, tooltip: { enabled: false }, title: { display: false } },
        scales: {
          x: {
            type: "linear",
            min: X_MIN,
            max: X_MAX,
            afterBuildTicks: (s: any) => { s.ticks = [1, 2, 3].map((v) => ({ value: v })); },
            afterFit: (s: any) => { s.height = PAD_B; },
            grid: { drawOnChartArea: false, drawTicks: true, tickLength: 11, color: "#000", tickColor: "#000", tickWidth: 2.5, lineWidth: 2.5 },
            border: { display: false },
            ticks: {
              autoSkip: false, maxRotation: 0, minRotation: 0, padding: 16, color: "#000",
              font: { family: FONT, size: 28 },
              callback: (v: any) => GROUPS[Math.round(Number(v)) - 1] ?? "",
            },
          },
          y: {
            type: "linear",
            min: Y_MIN[idx],
            max: Y_MAX[idx],
            afterBuildTicks: (s: any) => { s.ticks = yTicks.map((v) => ({ value: v })); },
            afterFit: (s: any) => { s.width = PAD_L; },
            grid: { drawOnChartArea: false, drawTicks: true, tickLength: 10, color: "#000", tickColor: "#000", tickWidth: 2.5, lineWidth: 2.5 },
            border: { display: false },
            ticks: {
              autoSkip: false, padding: 16, color: "#000",
              font: { family: FONT, size: 28 },
              callback: (v: any) => String(v),
            },
          },
        },
      },
      plugins: [plugin],
    } as any);
    return () => chart.destroy();
  }, [idx]);
  const col = idx % 3;
  const row = Math.floor(idx / 3);
  return (
    <canvas
      ref={ref}
      width={CW}
      height={CH}
      style={{ position: "absolute", left: COL_LEFT[col] - PAD_L, top: ROW_TOP[row] - PAD_T, width: CW, height: CH }}
    />
  );
}

const LEGEND_SQ_X = [468, 862, 1257];

export default function App() {
  return (
    <div style={{ position: "absolute", left: 0, top: 0, width: 1960, height: 1766, background: "#fff", overflow: "hidden", fontFamily: FONT }}>
      {TITLES.map((_, i) => <Panel key={i} idx={i} />)}
      <div style={{ position: "absolute", left: 22, top: 834, transform: "translate(-50%, -50%) rotate(-90deg)", fontWeight: "bold", fontSize: 43, whiteSpace: "nowrap", lineHeight: 1, color: "#000" }}>
        {Y_LABEL}
      </div>
      {LEGEND_LABELS.map((lab, i) => (
        <React.Fragment key={lab}>
          <div style={{ position: "absolute", left: LEGEND_SQ_X[i], top: 1733, width: 25, height: 26, background: COLORS[i] }} />
          <div style={{ position: "absolute", left: LEGEND_SQ_X[i] + 45, top: 1726, height: 40, lineHeight: "40px", fontSize: 34, color: COLORS[i], whiteSpace: "nowrap" }}>
            {lab}
          </div>
        </React.Fragment>
      ))}
    </div>
  );
}
